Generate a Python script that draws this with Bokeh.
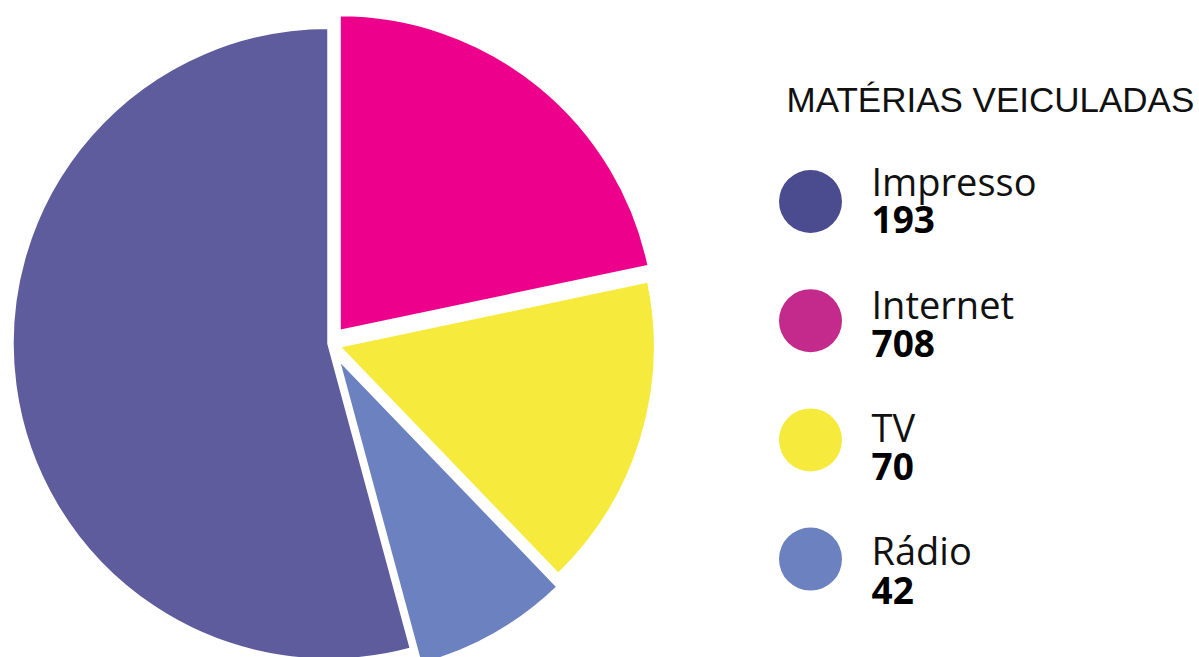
import math
from bokeh.plotting import figure
from bokeh.models import ColumnDataSource, Range1d
from bokeh.core.properties import value
from bokeh.embed import file_html
from bokeh.resources import INLINE

# ---- data ----
categories = ["Impresso", "Internet", "TV", "Rádio"]
legend_values = [193, 708, 70, 42]
pie_share = [54.2, 21.7, 16.1, 8.0]          # slice sizes (%)
pie_order = ["Internet", "TV", "Rádio", "Impresso"]   # clockwise from 12 o'clock
title_text = "MATÉRIAS VEICULADAS"

# ---- style ----
pie_colors = {"Impresso": "#5e5c9c", "Internet": "#ec008c", "TV": "#f6eb3c", "Rádio": "#6c81c0"}
dot_colors = {"Impresso": "#4b4b8f", "Internet": "#c4298c", "TV": "#f6eb3c", "Rádio": "#6c81c0"}
explode = {"Impresso": 1, "Internet": 16, "TV": 10, "Rádio": 18}

W, H = 1199, 657
p = figure(width=W, height=H, output_backend="svg", toolbar_location=None,
           x_range=Range1d(0, W), y_range=Range1d(0, H),
           min_border=0, outline_line_color=None)
p.axis.visible = False
p.grid.visible = False
p.background_fill_color = "white"
p.border_fill_color = "white"

# pie geometry (data units = pixels; y measured upward)
ox, oy, R = 329, H - 343, 316
share = dict(zip(categories, pie_share))
total = sum(pie_share)
a = math.pi / 2
xs, ys, sa, ea, cols = [], [], [], [], []
for c in pie_order:
    span = share[c] / total * 2 * math.pi
    start, end = a - span, a
    mid = (start + end) / 2
    xs.append(ox + explode[c] * math.cos(mid))
    ys.append(oy + explode[c] * math.sin(mid))
    sa.append(start)
    ea.append(end)
    cols.append(pie_colors[c])
    a = start

src = ColumnDataSource(dict(x=xs, y=ys, start=sa, end=ea, color=cols, name=pie_order))
p.wedge(x="x", y="y", radius=R, start_angle="start", end_angle="end",
        fill_color="color", line_color="white", line_width=2.5, source=src)

# legend
shift = 13  # baseline correction for the svg text
p.text(x=[786], y=[H - 111 + 12], text=[title_text], text_font=value("Liberation Sans"),
       text_font_size="35px", text_color="#111111", text_baseline="alphabetic")

font = value("Open Sans")
n = len(categories)
dot_y = [H - (201 + i * 119.2) for i in range(n)]
lab_y = [H - (193 + i * 123.3) + shift for i in range(n)]
num_y = [H - (232 + i * 123.7) + shift for i in range(n)]
p.scatter(x=[810] * n, y=dot_y, size=63, marker="circle",
          fill_color=[dot_colors[c] for c in categories], line_color=None)
p.text(x=[871] * n, y=lab_y, text=categories, text_font=font,
       text_font_size="38px", text_color="#111111", text_baseline="alphabetic")
p.text(x=[871] * n, y=num_y, text=[str(v) for v in legend_values], text_font=font,
       text_font_size="37px", text_font_style="bold", text_color="#000000",
       text_baseline="alphabetic")

open("out.html", "w").write(file_html(p, INLINE))
